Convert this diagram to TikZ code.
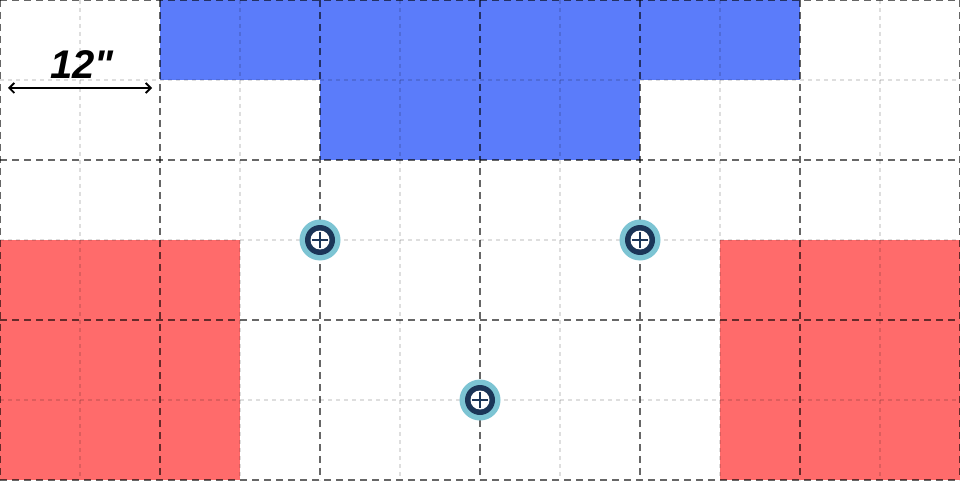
\documentclass[tikz,border=0pt]{standalone}
\usepackage{fontspec}
\setmainfont{Liberation Sans}
\newfontfamily\labelfont{Liberation Sans}
\usetikzlibrary{arrows.meta}
\definecolor{zoneblue}{HTML}{5B7CFA}
\definecolor{zonered}{HTML}{FF6B6B}
\definecolor{screwteal}{HTML}{7CC4D3}
\definecolor{screwnavy}{HTML}{1B3557}
\tikzset{
  bluezone/.style={fill=zoneblue, draw=none},
  redzone/.style={fill=zonered, draw=none},
  majorline/.style={draw=black, draw opacity=0.6, line width=1.4pt, dash pattern=on 7pt off 5pt},
  minorline/.style={draw=black, draw opacity=0.13, line width=1.4pt, dash pattern=on 4pt off 4pt},
  screwouter/.style={circle, fill=screwteal, minimum size=41pt, inner sep=0pt, draw=none},
  screwring/.style={circle, fill=screwnavy, minimum size=30pt, inner sep=0pt, draw=none},
  screwhead/.style={circle, fill=white, minimum size=19pt, inner sep=0pt, draw=none},
  screwcross/.style={draw=screwnavy, line width=2pt},
  screw/.pic={
    \node[screwouter] (-o) at (0,0) {};
    \node[screwring] (-r) at (0,0) {};
    \node[screwhead] (-h) at (0,0) {};
    \draw[screwcross] (-8,0) -- (8,0) (0,-8) -- (0,8);
  },
  dimarrow/.style={line width=1.8pt, {Straight Barb[length=5pt,width=10pt,line width=1.8pt]}-{Straight Barb[length=5pt,width=10pt,line width=1.8pt]}},
  dimlabel/.style={font=\labelfont\fontsize{40}{40}\selectfont\bfseries\itshape, inner sep=0pt}
}
\begin{document}
\begin{tikzpicture}[x=1pt,y=1pt]
\useasboundingbox (0,0) rectangle (960,480);
\fill[white] (0,0) rectangle (960,480);
% zones (y measured upward: y' = 480 - y)
\fill[bluezone] (160,400) rectangle (800,480);
\fill[bluezone] (320,320) rectangle (640,400);
\fill[redzone] (0,0) rectangle (240,240);
\fill[redzone] (720,0) rectangle (960,240);
% minor grid
\foreach \x in {80,240,...,880} \draw[minorline] (\x,480) -- (\x,0);
\foreach \y in {80,240,400} \draw[minorline] (0,\y) -- (960,\y);
% major grid
\foreach \x in {0,160,...,960} \draw[majorline] (\x,480) -- (\x,0);
\foreach \y in {0,160,320,480} \draw[majorline] (0,\y) -- (960,\y);
% screws
\pic (s1) at (320,240) {screw};
\pic (s2) at (640,240) {screw};
\pic (s3) at (480,80) {screw};
% dimension
\coordinate (dl) at (8,392);
\coordinate (dr) at (152,392);
\draw[dimarrow] (dl) -- (dr);
\node[dimlabel] (lab) at (82,415) {12"};
\end{tikzpicture}
\end{document}
